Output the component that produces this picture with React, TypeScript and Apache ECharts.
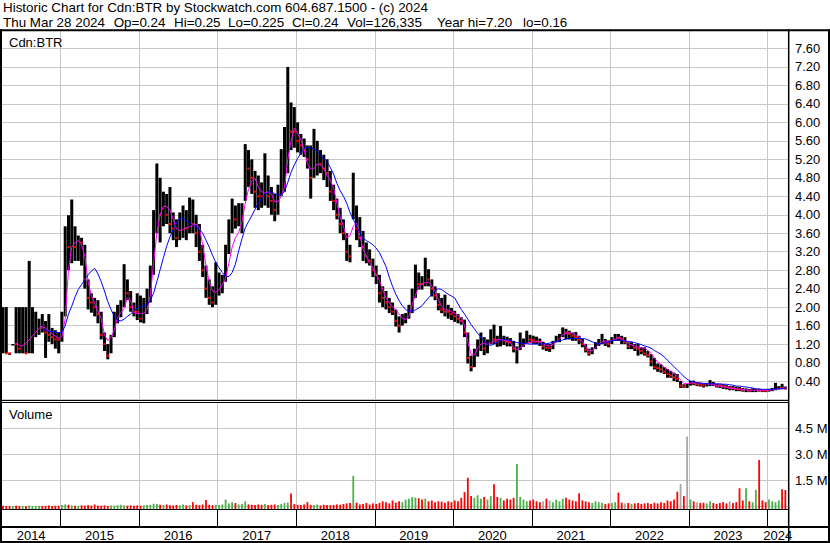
import React, { useEffect, useRef } from "react";
import * as echarts from "echarts";

// ---------- DATA (half-month periods, first = Apr 2014 1st half, last = Mar 2024 2nd half) ----------
const FIRST_PERIOD_YEAR = 2014.25;
const PERIODS_PER_YEAR = 24;

const priceHigh = [
  2.0, 2.0, 1.0, 1.2, 2.0, 2.0, 2.0, 2.0, 3.0, 2.0,
  1.9, 1.75, 1.85, 1.7, 1.85, 1.55, 1.5, 1.45, 1.9, 3.75,
  3.99, 4.33, 3.75, 3.55, 3.5, 3.35, 2.6, 2.3, 2.2, 2.15,
  1.9, 1.45, 1.2, 1.4, 1.9, 2.05, 2.15, 2.93, 2.6, 2.35,
  2.1, 2.3, 2.25, 2.2, 2.4, 2.9, 4.1, 5.11, 4.8, 4.5,
  4.45, 4.6, 4.05, 3.9, 4.05, 4.2, 4.1, 4.37, 4.33, 4.0,
  3.8, 3.35, 2.9, 2.6, 2.45, 2.97, 2.75, 2.7, 3.35, 3.9,
  4.35, 4.2, 4.25, 4.25, 5.53, 5.4, 5.2, 4.95, 4.85, 4.7,
  5.33, 4.85, 4.6, 4.45, 4.65, 5.42, 5.9, 7.2, 6.43, 6.33,
  6.0, 5.75, 5.65, 5.5, 5.5, 5.86, 5.6, 5.4, 5.3, 5.2,
  4.95, 4.65, 4.35, 4.15, 3.9, 3.6, 3.35, 4.91, 4.2, 3.95,
  3.65, 3.4, 3.25, 3.05, 2.9, 2.7, 2.45, 2.35, 2.2, 2.1,
  1.95, 1.8, 1.85, 1.87, 2.05, 2.4, 2.92, 2.75, 2.67, 3.07,
  2.82, 2.6, 2.45, 2.3, 2.2, 2.27, 2.05, 1.98, 1.92, 1.85,
  1.78, 1.73, 1.45, 0.95, 1.1, 1.3, 1.45, 1.35, 1.3, 1.52,
  1.62, 1.38, 1.59, 1.38, 1.36, 1.33, 1.27, 1.15, 1.45, 1.32,
  1.49, 1.4, 1.38, 1.36, 1.32, 1.25, 1.2, 1.2, 1.27, 1.38,
  1.42, 1.56, 1.53, 1.49, 1.45, 1.46, 1.38, 1.31, 1.2, 1.1,
  1.13, 1.24, 1.31, 1.42, 1.31, 1.28, 1.35, 1.42, 1.42, 1.38,
  1.35, 1.24, 1.24, 1.2, 1.2, 1.13, 1.13, 1.05, 0.98, 0.9,
  0.78, 0.76, 0.7, 0.66, 0.62, 0.58, 0.55, 0.4, 0.33, 0.34,
  0.4, 0.41, 0.38, 0.37, 0.35, 0.36, 0.42, 0.38, 0.34, 0.33,
  0.33, 0.31, 0.29, 0.29, 0.28, 0.27, 0.25, 0.24, 0.23, 0.24,
  0.23, 0.23, 0.22, 0.22, 0.23, 0.25, 0.36, 0.29, 0.34, 0.28,
];

const priceLow = [
  1.0, 1.0, 1.0, 1.2, 1.0, 1.0, 1.0, 1.0, 1.0, 1.0,
  1.35, 1.4, 1.45, 0.9, 1.25, 1.2, 1.1, 1.0, 1.25, 1.8,
  2.8, 2.95, 3.0, 3.0, 2.9, 2.4, 1.95, 1.88, 1.8, 1.65,
  1.3, 1.05, 0.87, 1.0, 1.35, 1.65, 1.78, 2.0, 2.15, 1.9,
  1.8, 1.72, 1.67, 1.65, 1.85, 2.1, 2.7, 3.6, 3.4, 3.75,
  3.8, 3.6, 3.45, 3.3, 3.45, 3.5, 3.45, 3.6, 3.6, 3.3,
  3.0, 2.65, 2.2, 2.05, 2.0, 2.05, 2.25, 2.3, 2.55, 3.15,
  3.6, 3.7, 3.75, 3.6, 4.3, 4.6, 4.45, 4.15, 4.1, 4.15,
  4.2, 4.15, 4.0, 3.86, 4.0, 4.4, 4.5, 4.9, 5.4, 5.45,
  5.35, 5.3, 5.25, 5.0, 4.35, 4.8, 4.85, 4.9, 4.75, 4.6,
  4.3, 4.1, 3.9, 3.6, 3.45, 3.0, 2.97, 3.9, 3.45, 3.3,
  3.0, 2.95, 2.9, 2.65, 2.5, 2.1, 2.0, 1.95, 1.87, 1.83,
  1.58, 1.45, 1.6, 1.65, 1.75, 1.87, 2.2, 2.38, 2.38, 2.45,
  2.45, 2.23, 2.15, 1.93, 1.87, 1.8, 1.75, 1.72, 1.68, 1.65,
  1.62, 1.35, 0.78, 0.61, 0.7, 0.93, 1.05, 0.96, 1.0, 1.2,
  1.2, 1.14, 1.15, 1.18, 1.15, 1.15, 1.02, 0.78, 1.07, 1.14,
  1.22, 1.23, 1.2, 1.2, 1.16, 1.08, 1.05, 1.03, 1.09, 1.24,
  1.24, 1.35, 1.3, 1.3, 1.27, 1.27, 1.2, 1.13, 1.02, 0.95,
  0.98, 1.09, 1.16, 1.2, 1.16, 1.13, 1.2, 1.27, 1.27, 1.2,
  1.2, 1.09, 1.09, 1.05, 0.95, 0.98, 0.95, 0.91, 0.72, 0.65,
  0.6, 0.58, 0.55, 0.47, 0.47, 0.4, 0.38, 0.25, 0.25, 0.25,
  0.3, 0.31, 0.29, 0.28, 0.26, 0.28, 0.29, 0.29, 0.26, 0.25,
  0.23, 0.22, 0.2, 0.2, 0.18, 0.18, 0.17, 0.16, 0.16, 0.16,
  0.16, 0.17, 0.16, 0.16, 0.17, 0.18, 0.2, 0.22, 0.22, 0.22,
];

const priceClose = [
  2.0, 1.0, 1.0, 1.2, 1.2, 1.1, 1.3, 1.0, 1.4, 1.5,
  1.55, 1.6, 1.55, 1.45, 1.4, 1.35, 1.3, 1.3, 1.8, 3.3,
  3.3, 3.5, 3.3, 3.45, 3.4, 2.6, 2.2, 2.1, 2.0, 1.85,
  1.4, 1.2, 0.95, 1.3, 1.7, 1.8, 1.95, 2.5, 2.3, 2.0,
  1.9, 1.9, 1.75, 1.8, 2.0, 2.6, 3.6, 4.3, 4.0, 4.2,
  4.0, 3.8, 3.7, 3.5, 3.7, 3.8, 3.7, 3.9, 3.8, 3.6,
  3.2, 2.8, 2.4, 2.2, 2.1, 2.3, 2.4, 2.45, 3.0, 3.4,
  3.9, 3.9, 4.0, 4.1, 5.0, 5.0, 4.8, 4.5, 4.4, 4.4,
  4.5, 4.4, 4.3, 4.1, 4.4, 4.9, 5.6, 5.9, 5.8, 5.8,
  5.6, 5.5, 5.4, 5.2, 4.8, 5.1, 5.2, 5.1, 5.0, 4.9,
  4.5, 4.3, 4.0, 3.8, 3.6, 3.2, 3.1, 4.3, 3.7, 3.5,
  3.3, 3.1, 3.0, 2.8, 2.7, 2.3, 2.2, 2.1, 2.0, 1.9,
  1.7, 1.6, 1.7, 1.75, 1.95, 2.2, 2.6, 2.5, 2.5, 2.7,
  2.6, 2.4, 2.25, 2.05, 1.95, 1.9, 1.9, 1.85, 1.8, 1.75,
  1.7, 1.45, 0.9, 0.7, 0.95, 1.1, 1.25, 1.1, 1.15, 1.35,
  1.3, 1.25, 1.3, 1.28, 1.25, 1.25, 1.1, 1.15, 1.2, 1.22,
  1.3, 1.3, 1.28, 1.26, 1.25, 1.15, 1.12, 1.12, 1.2, 1.3,
  1.35, 1.45, 1.45, 1.42, 1.38, 1.35, 1.3, 1.2, 1.08, 1.0,
  1.05, 1.18, 1.25, 1.28, 1.22, 1.2, 1.3, 1.35, 1.33, 1.3,
  1.25, 1.15, 1.18, 1.12, 1.1, 1.05, 1.0, 0.96, 0.82, 0.7,
  0.68, 0.65, 0.6, 0.55, 0.52, 0.48, 0.45, 0.3, 0.28, 0.29,
  0.36, 0.35, 0.33, 0.32, 0.3, 0.32, 0.34, 0.33, 0.3, 0.3,
  0.28, 0.27, 0.25, 0.24, 0.23, 0.22, 0.21, 0.22, 0.19, 0.2,
  0.21, 0.2, 0.19, 0.19, 0.2, 0.22, 0.25, 0.26, 0.25, 0.24,
];

// short moving average (magenta)
const maFast = [
  null, null, null, null, 1.22, 1.17, 1.16, 1.22, 1.29, 1.38,
  1.45, 1.54, 1.59, 1.54, 1.49, 1.42, 1.37, 1.33, 1.36, 1.75,
  2.8, 3.3, 3.4, 3.44, 3.35, 3.1, 2.55, 2.25, 2.08, 1.92,
  1.75, 1.4, 1.27, 1.35, 1.5, 1.78, 1.88, 1.97, 2.2, 2.15,
  1.88, 1.86, 1.86, 1.87, 1.95, 2.25, 2.95, 3.6, 4.0, 4.18,
  4.18, 4.1, 3.9, 3.7, 3.65, 3.68, 3.72, 3.74, 3.76, 3.8,
  3.72, 3.35, 2.9, 2.55, 2.35, 2.32, 2.38, 2.48, 2.62, 2.95,
  3.3, 3.5, 3.62, 3.85, 4.25, 4.55, 4.73, 4.79, 4.6, 4.5,
  4.47, 4.5, 4.45, 4.28, 4.28, 4.4, 4.6, 5.2, 5.6, 5.88,
  5.76, 5.62, 5.4, 5.1, 4.99, 5.0, 5.1, 5.08, 5.0, 4.85,
  4.75, 4.58, 4.25, 3.95, 3.75, 3.5, 3.55, 3.75, 3.82, 3.55,
  3.25, 3.1, 2.97, 2.85, 2.7, 2.58, 2.38, 2.2, 2.09, 2.0,
  1.95, 1.85, 1.76, 1.73, 1.8, 2.05, 2.25, 2.45, 2.5, 2.53,
  2.54, 2.45, 2.34, 2.15, 2.02, 1.94, 1.94, 1.9, 1.87, 1.82,
  1.76, 1.6, 1.25, 0.98, 0.96, 1.12, 1.2, 1.22, 1.19, 1.22,
  1.26, 1.3, 1.3, 1.29, 1.27, 1.22, 1.13, 1.08, 1.12, 1.18,
  1.22, 1.24, 1.25, 1.25, 1.26, 1.2, 1.17, 1.16, 1.19, 1.24,
  1.31, 1.4, 1.44, 1.45, 1.43, 1.39, 1.35, 1.26, 1.15, 1.05,
  1.06, 1.12, 1.2, 1.25, 1.27, 1.24, 1.28, 1.31, 1.35, 1.32,
  1.27, 1.21, 1.18, 1.16, 1.14, 1.12, 1.11, 1.06, 1.0, 0.9,
  0.81, 0.76, 0.7, 0.65, 0.61, 0.56, 0.5, 0.42, 0.35, 0.34,
  0.36, 0.36, 0.36, 0.35, 0.34, 0.34, 0.33, 0.32, 0.3, 0.29,
  0.28, 0.27, 0.25, 0.24, 0.23, 0.22, 0.21, 0.21, 0.2, 0.2,
  0.2, 0.2, 0.2, 0.2, 0.2, 0.21, 0.22, 0.23, 0.24, 0.25,
];

// long moving average (blue)
const maSlow = [
  null, null, null, null, null, null, null, null, null, null,
  null, null, 1.55, 1.5, 1.48, 1.47, 1.46, 1.45, 1.45, 1.6,
  1.85, 2.02, 2.22, 2.38, 2.49, 2.6, 2.7, 2.78, 2.84, 2.72,
  2.55, 2.35, 2.12, 1.95, 1.8, 1.72, 1.7, 1.74, 1.8, 1.85,
  1.92, 1.98, 2.01, 2.03, 2.05, 2.15, 2.3, 2.55, 2.81, 3.07,
  3.32, 3.52, 3.68, 3.82, 3.93, 3.92, 3.87, 3.82, 3.77, 3.74,
  3.68, 3.6, 3.45, 3.3, 3.12, 2.97, 2.85, 2.75, 2.67, 2.66,
  2.75, 2.93, 3.22, 3.48, 3.72, 3.85, 3.98, 4.12, 4.25, 4.35,
  4.42, 4.5, 4.49, 4.46, 4.42, 4.44, 4.5, 4.7, 4.92, 5.08,
  5.22, 5.33, 5.44, 5.46, 5.45, 5.42, 5.38, 5.3, 5.22, 5.15,
  5.02, 4.88, 4.68, 4.52, 4.4, 4.25, 4.05, 3.9, 3.75, 3.62,
  3.5, 3.44, 3.4, 3.35, 3.28, 3.18, 3.03, 2.88, 2.65, 2.45,
  2.28, 2.14, 2.03, 1.95, 1.91, 1.92, 1.94, 1.98, 2.03, 2.12,
  2.2, 2.28, 2.36, 2.4, 2.38, 2.33, 2.28, 2.24, 2.2, 2.07,
  1.95, 1.85, 1.74, 1.62, 1.53, 1.43, 1.35, 1.27, 1.2, 1.17,
  1.2, 1.24, 1.28, 1.3, 1.29, 1.28, 1.25, 1.23, 1.22, 1.21,
  1.21, 1.2, 1.2, 1.2, 1.2, 1.21, 1.21, 1.22, 1.24, 1.25,
  1.27, 1.29, 1.31, 1.32, 1.32, 1.32, 1.32, 1.32, 1.31, 1.28,
  1.25, 1.22, 1.2, 1.21, 1.23, 1.25, 1.27, 1.28, 1.29, 1.28,
  1.26, 1.26, 1.25, 1.23, 1.21, 1.19, 1.16, 1.14, 1.11, 1.06,
  1.02, 0.98, 0.92, 0.85, 0.78, 0.71, 0.64, 0.57, 0.5, 0.44,
  0.4, 0.38, 0.36, 0.35, 0.35, 0.34, 0.34, 0.34, 0.34, 0.34,
  0.33, 0.33, 0.32, 0.31, 0.29, 0.29, 0.28, 0.27, 0.26, 0.25,
  0.23, 0.23, 0.22, 0.22, 0.22, 0.22, 0.23, 0.23, 0.24, 0.25,
];

// volume, millions of shares (peak day in each period)
const volumeM = [
  0.04, 0.03, 0.02, 0.03, 0.05, 0.03, 0.04, 0.02, 0.06, 0.03,
  0.04, 0.05, 0.03, 0.04, 0.06, 0.03, 0.04, 0.05, 0.08, 0.12,
  0.1, 0.06, 0.05, 0.04, 0.06, 0.05, 0.08, 0.05, 0.12, 0.06,
  0.05, 0.07, 0.04, 0.06, 0.05, 0.08, 0.1, 0.06, 0.05, 0.07,
  0.05, 0.06, 0.05, 0.06, 0.08, 0.1, 0.16, 0.14, 0.1, 0.08,
  0.12, 0.07, 0.06, 0.09, 0.07, 0.11, 0.06, 0.08, 0.25, 0.1,
  0.08, 0.12, 0.38, 0.1, 0.07, 0.09, 0.08, 0.12, 0.4, 0.18,
  0.25, 0.2, 0.12, 0.15, 0.3, 0.12, 0.1, 0.08, 0.12, 0.1,
  0.15, 0.08, 0.1, 0.12, 0.09, 0.15, 0.2, 0.22, 0.75, 0.15,
  0.1, 0.08, 0.12, 0.25, 0.1, 0.08, 0.12, 0.06, 0.1, 0.08,
  0.07, 0.09, 0.12, 0.1, 0.15, 0.18, 0.2, 1.77, 0.22, 0.12,
  0.15, 0.2, 0.12, 0.18, 0.15, 0.2, 0.3, 0.25, 0.18, 0.35,
  0.22, 0.3, 0.25, 0.4, 0.45, 0.55, 0.52, 0.48, 0.4, 0.45,
  0.3, 0.35, 0.25, 0.3, 0.28, 0.22, 0.3, 0.25, 0.35, 0.3,
  0.5, 0.83, 1.66, 0.6, 0.5, 0.65, 0.45, 0.55, 0.4, 0.6,
  1.28, 0.55, 0.5, 0.35, 0.45, 0.4, 0.5, 2.45, 0.55, 0.4,
  0.3, 0.35, 0.4, 0.3, 0.25, 0.3, 0.45, 0.35, 0.25, 0.4,
  0.3, 0.45, 0.5, 0.4, 0.35, 0.3, 0.76, 0.35, 0.3, 0.25,
  0.2, 0.3, 0.25, 0.2, 0.15, 0.18, 0.2, 0.25, 0.8, 0.22,
  0.18, 0.2, 0.15, 0.18, 0.2, 0.15, 0.18, 0.2, 0.15, 0.22,
  0.18, 0.25, 0.2, 0.35, 0.3, 0.4, 0.85, 1.3, 0.6, 4.04,
  0.4, 0.3, 0.25, 0.2, 0.22, 0.18, 0.3, 0.2, 0.15, 0.2,
  0.25, 0.18, 0.3, 0.2, 0.25, 1.05, 0.35, 1.05, 0.3, 0.25,
  0.96, 2.68, 0.35, 0.25, 0.4, 0.3, 0.25, 0.35, 1.0, 0.95,
];

// periods whose biggest day closed unchanged (grey volume)
const unchangedPeriods = [165, 167, 190, 207, 209, 212, 222];

const yearLabels = [2014, 2015, 2016, 2017, 2018, 2019, 2020, 2021, 2022, 2023, 2024];
const yearBoundaries = [2015, 2016, 2017, 2018, 2019, 2020, 2021, 2022, 2023, 2024];

const headerTitle = "Historic Chart for Cdn:BTR by Stockwatch.com 604.687.1500 - (c) 2024";
const headerQuote = ["Thu Mar 28 2024", "Op=0.24", "Hi=0.25", "Lo=0.225", "Cl=0.24", "Vol=126,335", "Year hi=7.20", "lo=0.16"];
const headerQuoteX = [3, 113.7, 174, 228, 292, 347, 437, 523];

// ---------- LAYOUT / STYLE ----------
const X_MIN = 2014.258;
const X_MAX = 2024.263;
const FONT = '"Liberation Sans", Arial, Helvetica, sans-serif';
const GRID_COLOR = "#c8c8c8";
const PLOT_LEFT = 2;
const PLOT_WIDTH = 786;

const periodTime = (i: number) => FIRST_PERIOD_YEAR + (i + 0.5) / PERIODS_PER_YEAR;

function buildOption() {
  const barData = priceHigh.map((h, i) => [
    periodTime(i), h, priceLow[i], priceClose[i],
    i > 0 && priceClose[i] <= priceClose[i - 1] ? 1 : 0,
  ]);
  const fastData: any[] = [];
  maFast.forEach((v, i) => { if (v != null) fastData.push([periodTime(i), v]); });
  const slowData: any[] = [];
  maSlow.forEach((v, i) => { if (v != null) slowData.push([periodTime(i), v]); });
  const volData = volumeM.map((v, i) => {
    const tone = unchangedPeriods.includes(i) ? 2 : (i === 0 || priceClose[i] <= priceClose[i - 1] ? 0 : 1);
    return [periodTime(i), v, tone];
  });
  const boundaryData = yearBoundaries.map((y) => [y, 0]);
  const labelData = yearLabels.map((y) => [y, 0]);

  const gridLineItem = (params: any, api: any) => {
    const cs = params.coordSys;
    const x = Math.round(api.coord([api.value(0), 0])[0]) + 0.5;
    return { type: "line", shape: { x1: x, y1: cs.y, x2: x, y2: cs.y + cs.height }, style: { stroke: GRID_COLOR, lineWidth: 1 } };
  };

  const priceBarItem = (params: any, api: any) => {
    const t = api.value(0);
    const top = api.coord([t, api.value(1)]);
    const bot = api.coord([t, api.value(2)]);
    const cls = api.coord([t, api.value(3)]);
    const y2 = Math.max(bot[1], top[1] + 1.5);
    const children: any[] = [
      { type: "line", shape: { x1: top[0], y1: top[1], x2: top[0], y2 }, style: { stroke: "#000", lineWidth: 3 } },
    ];
    if (api.value(4) === 1) {
      children.push({ type: "line", shape: { x1: cls[0] - 1.2, y1: cls[1], x2: cls[0] + 1.2, y2: cls[1] }, style: { stroke: "#ff0000", lineWidth: 2 } });
    }
    return { type: "group", children };
  };

  const volumeItem = (params: any, api: any) => {
    const t = api.value(0);
    const top = api.coord([t, api.value(1)]);
    const base = api.coord([t, 0]);
    const tone = api.value(2);
    const fill = tone === 2 ? "#a8a8a8" : tone === 1 ? "#4cb04c" : "#ff0000";
    return {
      type: "rect",
      shape: { x: top[0] - 0.9, y: top[1], width: 1.8, height: Math.max(base[1] - top[1], 1) + 2.5 },
      style: { fill },
    };
  };

  const yearCellItem = (params: any, api: any) => {
    const cs = params.coordSys;
    const year = api.value(0);
    const xs = api.coord([Math.max(year, X_MIN), 0])[0];
    const xe = api.coord([Math.min(year + 1, X_MAX), 0])[0];
    const children: any[] = [];
    if (year > X_MIN) {
      const x = Math.round(api.coord([year, 0])[0]) + 0.5;
      children.push({ type: "line", shape: { x1: x, y1: cs.y, x2: x, y2: cs.y + cs.height }, style: { stroke: "#000", lineWidth: 1 } });
    }
    children.push({
      type: "text",
      style: {
        text: String(year), x: (xs + xe) / 2, y: cs.y + cs.height + 8.5,
        align: "center", verticalAlign: "middle", textAlign: "center", textVerticalAlign: "middle",
        fill: "#000", font: `13px ${FONT}`,
      },
    });
    return { type: "group", children };
  };

  const hline = (x1: number, x2: number, y: number, w: number) => ({
    type: "line", z: 100, silent: true, shape: { x1, y1: y, x2, y2: y }, style: { stroke: "#000", lineWidth: w },
  });
  const vline = (x: number, y1: number, y2: number, w: number) => ({
    type: "line", z: 100, silent: true, shape: { x1: x, y1, x2: x, y2 }, style: { stroke: "#000", lineWidth: w },
  });
  const label = (text: string, x: number, y: number, size = 13) => ({
    type: "text", z: 100, silent: true, x, y,
    style: { text, fill: "#000", font: `${size}px ${FONT}`, textVerticalAlign: "middle", verticalAlign: "middle" },
  });

  const axisLabelBase = { color: "#000", fontSize: 13, fontFamily: FONT, margin: 7 };

  return {
    animation: false,
    backgroundColor: "#ffffff",
    grid: [
      { left: PLOT_LEFT, top: 30, width: PLOT_WIDTH, height: 369.5, containLabel: false, outerBoundsMode: "none" },
      { left: PLOT_LEFT, top: 402.5, width: PLOT_WIDTH, height: 104, containLabel: false, outerBoundsMode: "none" },
      { left: PLOT_LEFT, top: 510, width: PLOT_WIDTH, height: 16.5, containLabel: false, outerBoundsMode: "none" },
    ],
    xAxis: [0, 1, 2].map((gi) => ({ type: "value", gridIndex: gi, min: X_MIN, max: X_MAX, show: false })),
    yAxis: [
      {
        type: "value", gridIndex: 0, position: "right", min: 0, max: 8, interval: 0.4,
        axisLine: { show: false }, axisTick: { show: false },
        splitLine: { show: true, lineStyle: { color: GRID_COLOR, width: 1 } },
        axisLabel: {
          ...axisLabelBase,
          formatter: (v: number) => (v > 0.01 && v < 7.99 ? v.toFixed(2) : ""),
        },
      },
      {
        type: "value", gridIndex: 1, position: "right", min: 0, max: 6, interval: 1.5,
        axisLine: { show: false }, axisTick: { show: false },
        splitLine: { show: true, lineStyle: { color: GRID_COLOR, width: 1 } },
        axisLabel: {
          ...axisLabelBase,
          formatter: (v: number) => (v > 0.01 && v < 5.99 ? `${v.toFixed(1)} M` : ""),
        },
      },
      { type: "value", gridIndex: 2, min: 0, max: 1, show: false },
    ],
    series: [
      { type: "custom", name: "yearGridPrice", xAxisIndex: 0, yAxisIndex: 0, z: 1, silent: true, renderItem: gridLineItem, data: boundaryData },
      { type: "custom", name: "yearGridVolume", xAxisIndex: 1, yAxisIndex: 1, z: 1, silent: true, renderItem: gridLineItem, data: boundaryData },
      {
        type: "custom", name: "Cdn:BTR", xAxisIndex: 0, yAxisIndex: 0, z: 3, silent: true,
        encode: { x: 0, y: [1, 2, 3] }, renderItem: priceBarItem, data: barData,
      },
      {
        type: "line", name: "fastMA", xAxisIndex: 0, yAxisIndex: 0, z: 4, silent: true,
        showSymbol: false, symbol: "none", data: fastData,
        lineStyle: { color: "#ff00ff", width: 1 },
      },
      {
        type: "line", name: "slowMA", xAxisIndex: 0, yAxisIndex: 0, z: 5, silent: true,
        showSymbol: false, symbol: "none", data: slowData,
        lineStyle: { color: "#0000ff", width: 1 },
      },
      {
        type: "custom", name: "Volume", xAxisIndex: 1, yAxisIndex: 1, z: 3, silent: true,
        encode: { x: 0, y: 1 }, renderItem: volumeItem, data: volData,
      },
      { type: "custom", name: "years", xAxisIndex: 2, yAxisIndex: 2, z: 3, silent: true, renderItem: yearCellItem, data: labelData },
    ],
    graphic: [
      label(headerTitle, 3, 7.8, 13.4),
      ...headerQuote.map((s, k) => label(s, headerQuoteX[k], 22.4, 13.4)),
      label("Cdn:BTR", 9, 42),
      label("Volume", 9, 414),
      hline(0, 830, 30.3, 2),
      vline(1, 29.3, 543, 2),
      vline(829, 29.3, 543, 2),
      vline(788.7, 29.3, 543, 1.5),
      hline(2, 788, 400.5, 1),
      hline(2, 788, 402.5, 1),
      hline(2, 788, 509.5, 1),
      hline(0, 830, 527, 2),
      hline(0, 830, 542, 2),
    ],
  };
}

export default function App() {
  const ref = useRef<HTMLDivElement>(null);
  useEffect(() => {
    document.body.style.margin = "0";
    const chart = echarts.init(ref.current as HTMLDivElement, null, { renderer: "svg", width: 830, height: 543 });
    chart.setOption(buildOption() as any);
    return () => chart.dispose();
  }, []);
  return <div ref={ref} style={{ width: 830, height: 543, background: "#fff" }} />;
}
